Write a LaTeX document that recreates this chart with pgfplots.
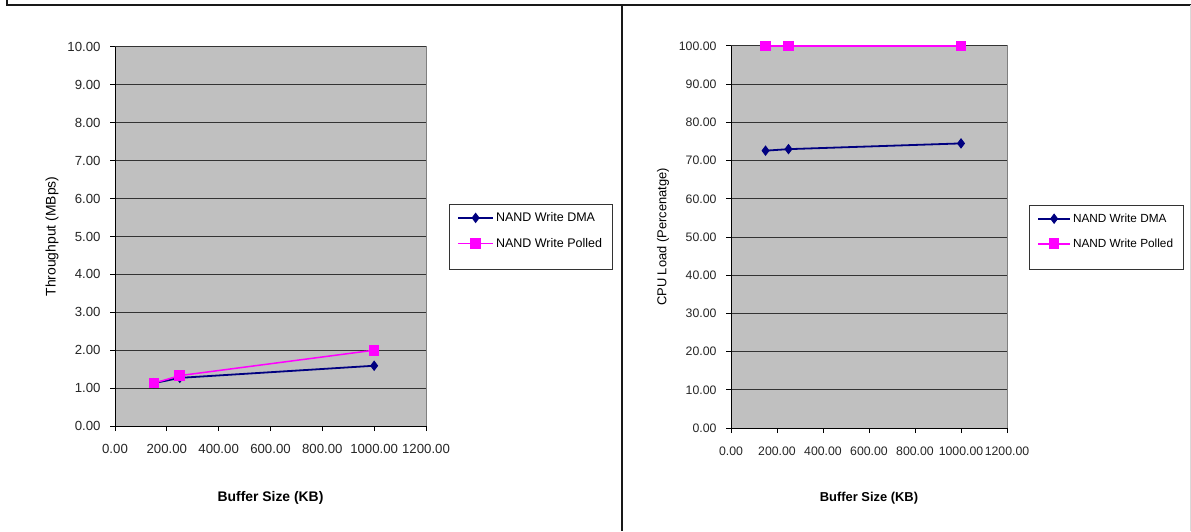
\documentclass[border=0pt]{standalone}
\usepackage{pgfplots}
\pgfplotsset{compat=1.18}
\usepackage{fontspec}
\setmainfont{Liberation Sans}
\definecolor{excelgray}{HTML}{C0C0C0}
\definecolor{dmablue}{HTML}{000080}
\definecolor{polmag}{HTML}{FF00FF}
\pgfplotsset{
  myaxis/.style={
    scale only axis,
    clip=false,
    axis lines*=left,
    axis line style={black, line width=1pt},
    axis background/.style={fill=excelgray, draw=gray, line width=1pt},
    ymajorgrids, grid style={black!80, line width=1pt},
    tick align=outside, major tick length=5pt,
    tick style={black, line width=1pt},
    xmin=0, xmax=1200, xtick={0,200,...,1200},
    /pgf/number format/fixed,
    /pgf/number format/fixed zerofill,
    /pgf/number format/precision=2,
    /pgf/number format/1000 sep={},
    /pgf/number format/assume math mode=true,
    yticklabel style={xshift=-6pt},
    xticklabel style={yshift=-10pt},
    legend style={anchor=north west, draw=none, fill=none,
      row sep=11pt, inner xsep=8pt, inner ysep=6.5pt,
      cells={anchor=west}},
  },
  dma/.style={color=dmablue, line width=1.8pt, mark=diamond*, mark size=4.5pt, mark options={solid, line width=1pt}},
  pol/.style={color=polmag, line width=1.5pt, mark=square*, mark size=4.8pt, mark options={solid, line width=1pt}},
}
\begin{document}
\begin{tikzpicture}[x=1pt,y=1pt]
\useasboundingbox (0,0) rectangle (1191,531);
\fill[white] (0,0) rectangle (1191,531);
\draw[line width=2pt, black!90] (7,531) -- (7,525.5) -- (1191,525.5);
\draw[line width=2pt, black!90] (622,525.5) -- (622,0);
\draw[line width=0.6pt, black!15] (1190.5,525.5) -- (1190.5,0);

\begin{axis}[myaxis,
  at={(115pt,105pt)}, anchor=south west,
  width=311pt, height=379pt,
  ymin=0, ymax=10, ytick={0,1,...,10},
  ticklabel style={font=\fontsize{13.2}{15}\selectfont, text=black!85},
  xlabel={Buffer Size (KB)}, ylabel={Throughput (MBps)},
  every axis x label/.style={at={(axis description cs:0.5,-0.19)}, anchor=center, font=\bfseries\fontsize{13.9}{15}\selectfont},
  every axis y label/.style={at={(axis description cs:-0.2026,0.5)}, rotate=90, anchor=center, font=\fontsize{13.9}{15}\selectfont},
  legend style={at={(1.074,0.586)}, name=legA, font=\fontsize{12.5}{14}\selectfont},
  legend image code/.code={\draw[mark repeat=2,mark phase=2,#1] plot coordinates {(0pt,0pt) (17.5pt,0pt) (35pt,0pt)};},
]
\addplot[dma] coordinates {(150,1.13) (250,1.27) (1000,1.59)};
\addplot[pol] coordinates {(150,1.13) (250,1.33) (1000,2.00)};
\legend{NAND Write DMA, NAND Write Polled}
\end{axis}
\draw[black!80, line width=0.8pt] (legA.north west) rectangle ([yshift=-12pt]legA.south east);

\begin{axis}[myaxis,
  at={(731pt,103pt)}, anchor=south west,
  width=276pt, height=382pt,
  ymin=0, ymax=100, ytick={0,10,...,100},
  ticklabel style={font=\fontsize{12.3}{14}\selectfont, text=black!85},
  xlabel={Buffer Size (KB)}, ylabel={CPU Load  (Percenatge)},
  every axis x label/.style={at={(axis description cs:0.5,-0.183)}, anchor=center, font=\bfseries\fontsize{12.9}{15}\selectfont},
  every axis y label/.style={at={(axis description cs:-0.2464,0.5)}, rotate=90, anchor=center, font=\fontsize{12.9}{15}\selectfont},
  legend style={at={(1.0797,0.5838)}, name=legB, font=\fontsize{11.8}{14}\selectfont},
  legend image code/.code={\draw[mark repeat=2,mark phase=2,#1] plot coordinates {(0pt,0pt) (16pt,0pt) (32pt,0pt)};},
]
\addplot[dma] coordinates {(150,72.6) (250,73.0) (1000,74.5)};
\addplot[pol] coordinates {(150,100) (250,100) (1000,100)};
\legend{NAND Write DMA, NAND Write Polled}
\end{axis}
\draw[black!80, line width=0.8pt] (legB.north west) rectangle ([yshift=-12pt]legB.south east);
\end{tikzpicture}
\end{document}
